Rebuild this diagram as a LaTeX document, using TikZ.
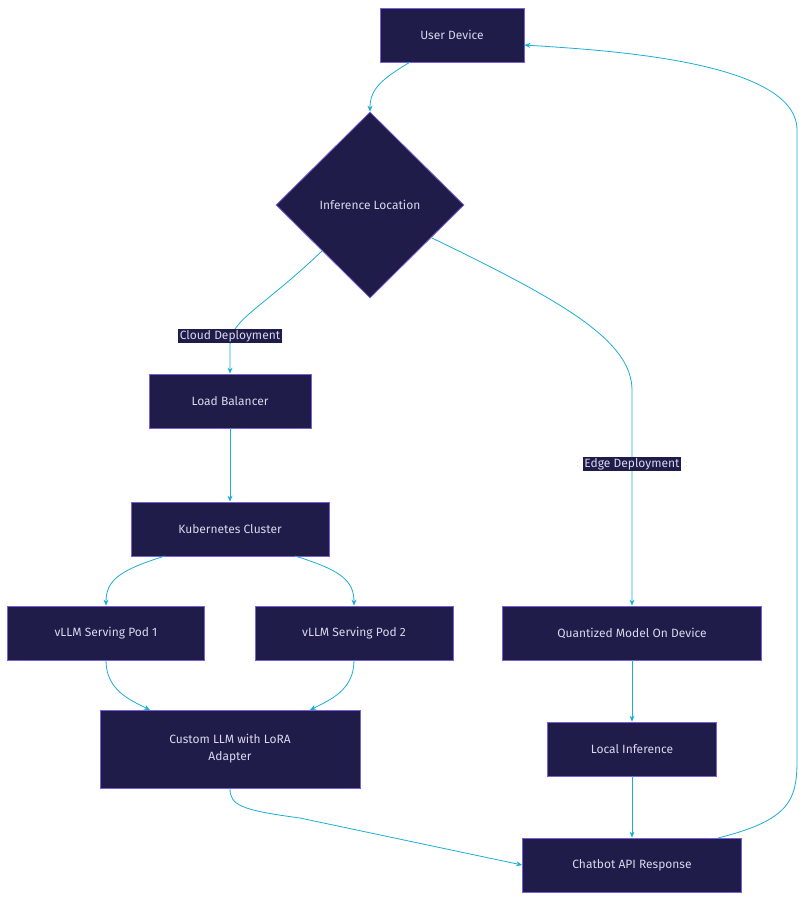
\documentclass[tikz,border=0pt]{standalone}
\usepackage{fontspec}
\setmainfont{Fira Sans}
\usetikzlibrary{shapes.geometric,arrows.meta}
\definecolor{nfill}{HTML}{1F1C4A}
\definecolor{nline}{HTML}{7B5FD6}
\definecolor{ntext}{HTML}{D8D8EA}
\definecolor{edge}{HTML}{1AAFD3}
\begin{document}
\begin{tikzpicture}[x=1pt,y=-1pt,
 box/.style={draw=nline,fill=nfill,text=ntext,font=\fontsize{12}{17}\selectfont,inner sep=0pt,align=center,line width=0.8pt},
 dia/.style={diamond,draw=nline,fill=nfill,text=ntext,font=\fontsize{12}{17}\selectfont,inner sep=0pt,minimum width=188pt,minimum height=186pt,line width=0.8pt},
 lbl/.style={fill=nfill,text=ntext,font=\fontsize{12}{15}\selectfont,inner sep=1.5pt},
 arr/.style={draw=edge,line width=0.8pt,-{Stealth[length=6pt,width=5pt]}}]
\useasboundingbox (0,0) rectangle (806,900);
\fill[white] (0,0) rectangle (806,900);
\node[box,minimum width=144pt,minimum height=54pt] (ud) at (452,35) {User Device};
\node[dia] (il) at (370,205) {Inference Location};
\node[box,minimum width=162pt,minimum height=54pt] (lb) at (230,401) {Load Balancer};
\node[box,minimum width=198pt,minimum height=54pt] (k8) at (230,529) {Kubernetes Cluster};
\node[box,minimum width=197pt,minimum height=54pt] (p1) at (106,633) {vLLM Serving Pod 1};
\node[box,minimum width=198pt,minimum height=54pt] (p2) at (354,633) {vLLM Serving Pod 2};
\node[box,minimum width=260pt,minimum height=78pt] (cl) at (230,749) {Custom LLM with LoRA\\Adapter};
\node[box,minimum width=259pt,minimum height=54pt] (qm) at (632,633) {Quantized Model On Device};
\node[box,minimum width=169pt,minimum height=54pt] (li) at (632,749) {Local Inference};
\node[box,minimum width=219pt,minimum height=54pt] (cb) at (632,865) {Chatbot API Response};

\draw[arr] (ud.south west)++(30,0) .. controls (380,80) and (370,90) .. (il.north);
\draw[arr] (322,251) .. controls (260,310) and (230,320) .. (230,345) -- (lb.north);
\node[lbl] (l1) at (230,336) {Cloud Deployment};
\draw[arr] (432,238) .. controls (560,300) and (632,340) .. (632,390) -- (qm.north);
\node[lbl] (l2) at (632,464) {Edge Deployment};
\draw[arr] (lb) -- (k8);
\draw[arr] (165,556) .. controls (120,570) and (106,580) .. (p1.north);
\draw[arr] (295,556) .. controls (340,570) and (354,580) .. (p2.north);
\draw[arr] (p1.south) .. controls (106,690) and (130,700) .. (150,710);
\draw[arr] (p2.south) .. controls (354,690) and (330,700) .. (310,710);
\draw[arr] (qm) -- (li);
\draw[arr] (li) -- (cb);
\draw[arr] (cl.south) .. controls (230,805) and (240,810) .. (300,818) -- (cb.west);
\draw[arr] (718,838) .. controls (790,820) and (797,800) .. (797,760) -- (797,130) .. controls (797,60) and (600,50) .. (ud.east |- 0,45);
\end{tikzpicture}
\end{document}
